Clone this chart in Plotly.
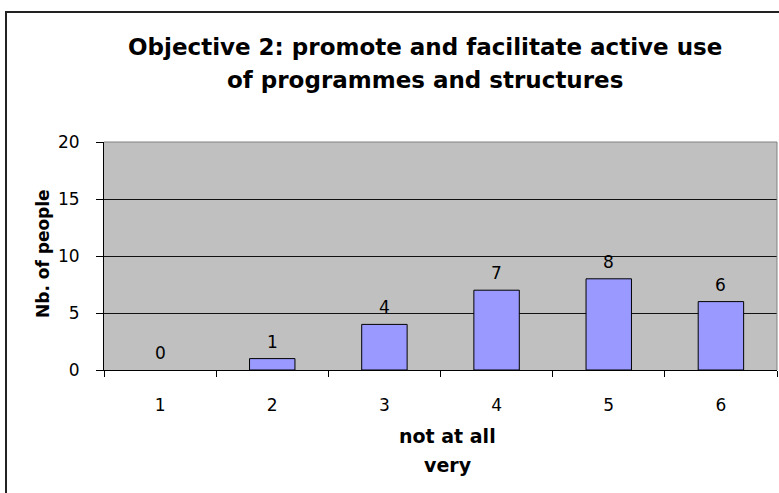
import plotly.graph_objects as go

categories = ["1", "2", "3", "4", "5", "6"]
counts = [0, 1, 4, 7, 8, 6]
y_ticks = [0, 5, 10, 15, 20]

title_lines = ["Objective 2: promote and facilitate active use", "of programmes and structures"]
x_title_lines = ["not at all", "very"]
y_title = "Nb. of people"

FONT = "DejaVu Sans"

fig = go.Figure()
fig.add_trace(go.Bar(
    x=categories, y=counts, width=0.405,
    marker=dict(color="#9999FF",
                line=dict(color="#000000", width=[0 if v == 0 else 1 for v in counts])),
    showlegend=False, hoverinfo="skip",
))

annotations = []
# data labels (category axis positions are category indices)
for i, v in enumerate(counts):
    annotations.append(dict(x=i, y=v, xref="x", yref="y", text=str(v), showarrow=False,
                            yanchor="middle", xanchor="center", yshift=17,
                            font=dict(family=FONT, size=17, color="#000")))
# title lines
for txt, yy in zip(title_lines, [1.4167, 1.272]):
    annotations.append(dict(x=0.477, y=yy, xref="paper", yref="paper", text="<b>%s</b>" % txt,
                            showarrow=False, xanchor="center", yanchor="middle",
                            font=dict(family=FONT, size=23, color="#000")))
# x title lines
for txt, yy in zip(x_title_lines, [-0.2895, -0.4167]):
    annotations.append(dict(x=0.511, y=yy, xref="paper", yref="paper", text="<b>%s</b>" % txt,
                            showarrow=False, xanchor="center", yanchor="middle",
                            font=dict(family=FONT, size=19, color="#000")))
# y title
annotations.append(dict(x=-0.0906, y=0.5088, xref="paper", yref="paper", text="<b>%s</b>" % y_title,
                        showarrow=False, xanchor="center", yanchor="middle", textangle=-90,
                        font=dict(family=FONT, size=17, color="#000")))

fig.update_layout(
    width=779, height=493,
    margin=dict(l=104, r=2, t=142, b=123, autoexpand=False),
    paper_bgcolor="white", plot_bgcolor="#C0C0C0",
    font=dict(family=FONT, size=17, color="#000"),
    annotations=annotations,
    shapes=[
        dict(type="rect", xref="paper", yref="paper", x0=-0.1456, x1=1.02, y0=-0.7, y1=1.570,
             line=dict(color="#222", width=2), fillcolor="rgba(0,0,0,0)", layer="below"),
        dict(type="line", xref="paper", yref="paper", x0=0, x1=1, y0=1, y1=1,
             line=dict(color="#808080", width=1)),
        dict(type="line", xref="paper", yref="paper", x0=1, x1=1, y0=0, y1=1,
             line=dict(color="#808080", width=1)),
    ],
)
fig.update_xaxes(
    type="category", showline=True, linecolor="#000", linewidth=1,
    range=[-0.5, len(categories) - 0.5],
    ticks="outside", ticklen=6, tickcolor="#000", showgrid=False,
    tickson="boundaries", tickfont=dict(size=17), ticklabelstandoff=20,
)
fig.update_yaxes(
    range=[0, 20], tickvals=y_ticks, showline=True, linecolor="#000", linewidth=1,
    ticks="outside", ticklen=7, tickcolor="#000", showgrid=True, gridcolor="#111", gridwidth=1,
    zeroline=False, tickfont=dict(size=17), ticklabelstandoff=13,
)

fig.write_html("out.html", config={"displayModeBar": False},
               post_script="document.body.style.margin='0';")
